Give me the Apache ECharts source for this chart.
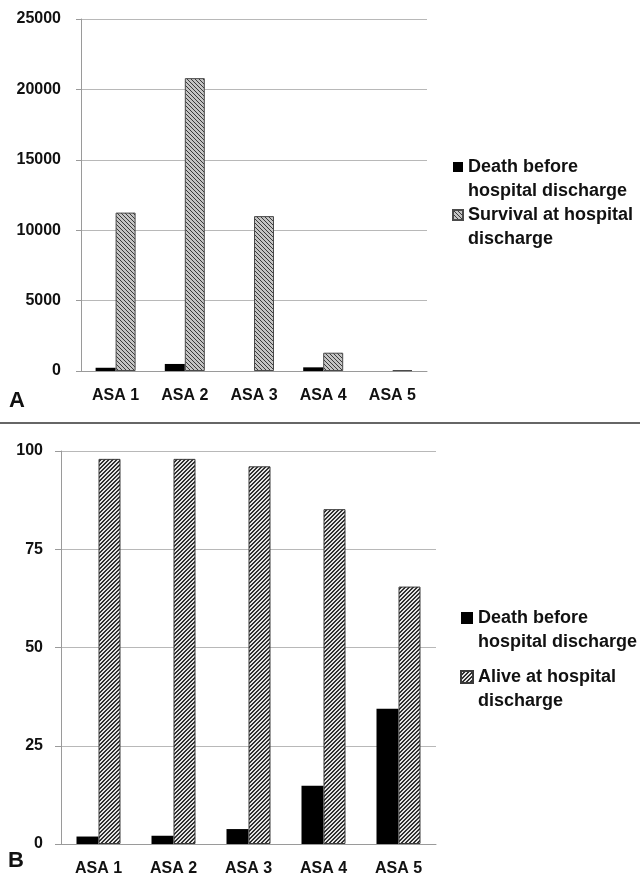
<!DOCTYPE html>
<html>
<head>
<meta charset="utf-8">
<script src="https://cdn.jsdelivr.net/npm/echarts@6/dist/echarts.min.js"></script>
<style>
html,body{margin:0;padding:0;background:#fff;}
#chart{width:640px;height:877px;}
</style>
</head>
<body>
<div id="chart"></div>
<script>
// ---- data ----
const categories = ['ASA 1', 'ASA 2', 'ASA 3', 'ASA 4', 'ASA 5'];
const deathCountsA = [230, 500, 0, 260, 0];
const survivalCountsA = [11250, 20800, 11000, 1300, 60];
const deathPctB = [1.9, 2.1, 3.8, 14.8, 34.4];
const alivePctB = [98.0, 98.0, 96.1, 85.2, 65.5];
const seriesNamesA = ['Death before\nhospital discharge', 'Survival at hospital\ndischarge'];
const seriesNamesB = ['Death before\nhospital discharge', 'Alive at hospital\ndischarge'];

const FONT = '"Liberation Sans", Arial, sans-serif';

function hatch(bg, fg, forward, thick) {
  const c = document.createElement('canvas');
  c.width = 4; c.height = 4;
  const g = c.getContext('2d');
  g.fillStyle = bg; g.fillRect(0, 0, 4, 4);
  g.fillStyle = fg;
  for (let i = 0; i < 4; i++) {
    const x = forward ? 3 - i : i;
    g.fillRect(x, i, 1, 1);
    if (thick) g.fillRect(forward ? (4 - i) % 4 : (i + 1) % 4, i, 1, 1);
  }
  return { image: c, repeat: 'repeat' };
}
const patA = hatch('#c4c4c4', '#3a3a3a', false, false);
const patB = hatch('#e4e4e4', '#303030', true, true);

const axisLabelStyle = { fontFamily: FONT, fontWeight: 'bold', fontSize: 16, color: '#111' };
const legendText = (size, lh) => ({
  fontFamily: FONT, fontWeight: 'bold', fontSize: size, color: '#111', lineHeight: lh
});

const chart = echarts.init(document.getElementById('chart'), null, { renderer: 'canvas' });
chart.setOption({
  animation: false,
  backgroundColor: '#ffffff',
  grid: [
    { left: 81, top: 19, width: 346, height: 352 },
    { left: 61, top: 451, width: 375, height: 393 }
  ],
  xAxis: [
    { type: 'category', gridIndex: 0, data: categories,
      axisLine: { lineStyle: { color: '#9a9a9a' } },
      axisTick: { length: 5, lineStyle: { color: '#9a9a9a' } },
      axisLabel: Object.assign({ margin: 17 }, axisLabelStyle) },
    { type: 'category', gridIndex: 1, data: categories,
      axisLine: { lineStyle: { color: '#9a9a9a' } },
      axisTick: { length: 5, lineStyle: { color: '#9a9a9a' } },
      axisLabel: Object.assign({ margin: 17 }, axisLabelStyle) }
  ],
  yAxis: [
    { type: 'value', gridIndex: 0, min: 0, max: 25000, interval: 5000,
      axisLine: { show: true, lineStyle: { color: '#9a9a9a' } },
      axisTick: { show: true, length: 5, lineStyle: { color: '#9a9a9a' } },
      splitLine: { lineStyle: { color: '#b8b8b8' } },
      axisLabel: Object.assign({ margin: 20, formatter: v => String(v) }, axisLabelStyle) },
    { type: 'value', gridIndex: 1, min: 0, max: 100, interval: 25,
      axisLine: { show: true, lineStyle: { color: '#9a9a9a' } },
      axisTick: { show: true, length: 6, lineStyle: { color: '#9a9a9a' } },
      splitLine: { lineStyle: { color: '#b8b8b8' } },
      axisLabel: Object.assign({ margin: 18, formatter: v => String(v) }, axisLabelStyle) }
  ],
  legend: [
    { left: 452, top: 131, orient: 'vertical', padding: 0, itemGap: -24,
      itemWidth: 10, itemHeight: 10, icon: 'rect', selectedMode: false,
      formatter: n => ' \n' + n,
      data: [seriesNamesA[0], seriesNamesA[1]].map(n => ({ name: n })),
      textStyle: legendText(18, 24) },
    { left: 460, top: 582, orient: 'vertical', padding: 0, itemGap: -13,
      itemWidth: 12, itemHeight: 12, icon: 'rect', selectedMode: false,
      formatter: n => ' \n' + n.trim(),
      data: [seriesNamesB[0] + ' ', seriesNamesB[1]].map(n => ({ name: n })),
      textStyle: legendText(18, 24) }
  ],
  series: [
    { type: 'bar', name: seriesNamesA[0], xAxisIndex: 0, yAxisIndex: 0, data: deathCountsA,
      barWidth: 20, barGap: '0%',
      itemStyle: { color: '#000', borderWidth: 0 } },
    { type: 'bar', name: seriesNamesA[1], xAxisIndex: 0, yAxisIndex: 0, data: survivalCountsA,
      barWidth: 20, barGap: '0%',
      itemStyle: { color: patA, borderColor: '#4a4a4a', borderWidth: 1 } },
    { type: 'bar', name: seriesNamesB[0] + ' ', xAxisIndex: 1, yAxisIndex: 1, data: deathPctB,
      barWidth: 22, barGap: '0%',
      itemStyle: { color: '#000', borderWidth: 0 } },
    { type: 'bar', name: seriesNamesB[1], xAxisIndex: 1, yAxisIndex: 1, data: alivePctB,
      barWidth: 22, barGap: '0%',
      itemStyle: { color: patB, borderColor: '#3a3a3a', borderWidth: 1 } }
  ],
  graphic: [
    { type: 'line', shape: { x1: 0, y1: 423, x2: 640, y2: 423 },
      style: { stroke: '#666', lineWidth: 2 } },
    { type: 'text', left: 9, top: 390,
      style: { text: 'A', font: 'bold 22px ' + FONT, fill: '#111' } },
    { type: 'text', left: 8, top: 850,
      style: { text: 'B', font: 'bold 22px ' + FONT, fill: '#111' } }
  ]
});
</script>
</body>
</html>
